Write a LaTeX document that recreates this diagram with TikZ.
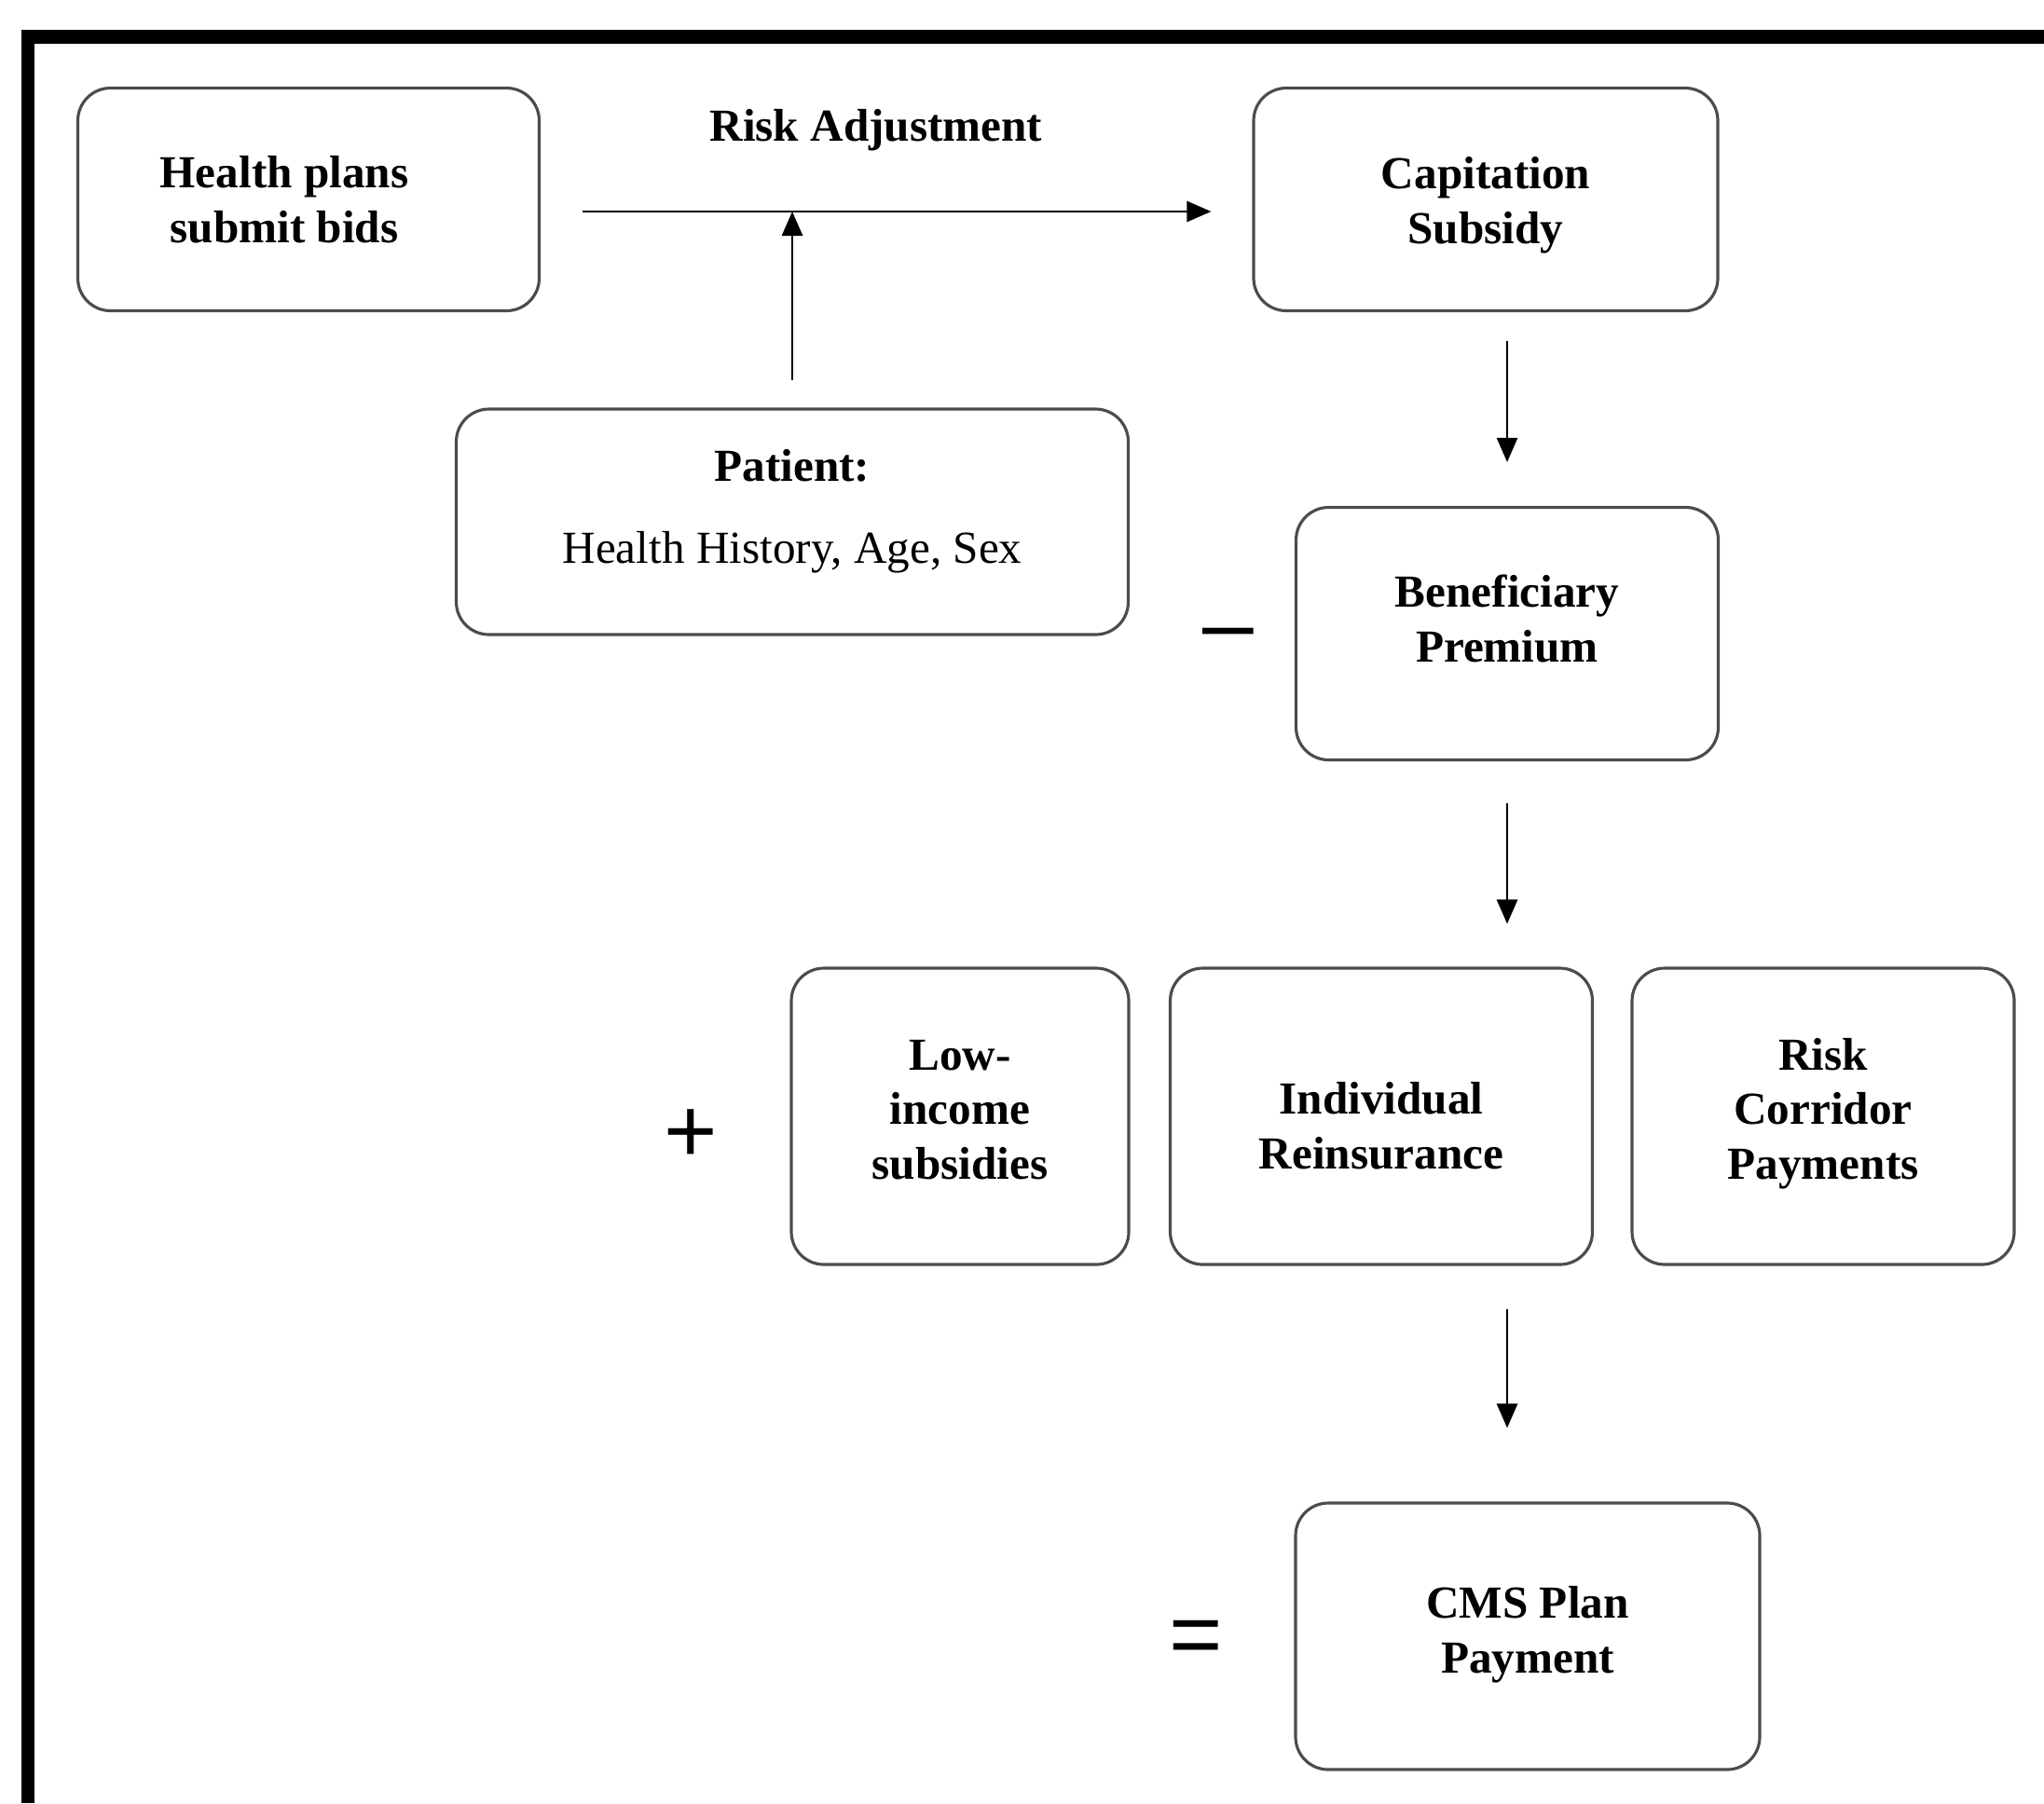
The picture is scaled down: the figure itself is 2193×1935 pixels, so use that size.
\documentclass[tikz,border=0pt]{standalone}
\usepackage{fontspec}
\setmainfont{Liberation Serif}
\newfontfamily\symfont{Liberation Sans}
\usetikzlibrary{arrows.meta,calc}
\definecolor{BoxClr}{rgb}{0.3,0.3,0.3}
% text block of a box, lifted by #1
\newcommand{\boxtext}[2]{\raisebox{#1}[\height][\depth]{\begin{tabular}{@{}c@{}}#2\end{tabular}}}

\begin{document}
\begin{tikzpicture}[x=0.1mm,y=-0.1mm,
  box/.style={draw=BoxClr,line width=0.9pt,rounded corners=3.5mm,
    inner sep=0pt,font=\fontsize{14}{16.7}\selectfont\bfseries},
  arr/.style={-{Triangle[length=2.6mm,width=2.2mm]},line width=0.8pt},
  sign/.style={font=\symfont\fontsize{28}{28}\selectfont}]
\useasboundingbox (0,0) rectangle (2193,1935);

% frame
\draw[line width=1.45mm] (30,1935) -- (30,39.5) -- (2193,39.5);

% boxes
\node[box,minimum width=4.95cm,minimum height=2.39cm] (health) at (331,214)
  {\boxtext{-0.55mm}{Health plans\\submit bids}\hspace*{5.2mm}};
\node[box,minimum width=4.98cm,minimum height=2.39cm] (capsub) at (1594,214)
  {\boxtext{-0.6mm}{Capitation\\Subsidy}};
\node[box,minimum width=7.21cm,minimum height=2.42cm] (patient) at (850,560)
  {\boxtext{1.1mm}{Patient:\\[2.9mm]\mdseries Health History, Age, Sex}};
\node[box,minimum width=4.53cm,minimum height=2.71cm] (benef) at (1617,680)
  {\boxtext{1.1mm}{Beneficiary\\Premium}};
\node[box,minimum width=3.62cm,minimum height=3.18cm] (lowinc) at (1030,1198)
  {\boxtext{0.3mm}{Low-\\income\\subsidies}};
\node[box,minimum width=4.53cm,minimum height=3.18cm] (reins) at (1482,1198)
  {\boxtext{-1.5mm}{Individual\\Reinsurance}};
\node[box,minimum width=4.10cm,minimum height=3.18cm] (corridor) at (1956,1198)
  {\boxtext{0.3mm}{Risk\\Corridor\\Payments}};
\node[box,minimum width=4.98cm,minimum height=2.86cm] (cms) at (1639,1756)
  {\boxtext{0.2mm}{CMS Plan\\Payment}};

% labels and signs
\node[font=\fontsize{14}{17}\selectfont\bfseries] (riskadj) at (940,140) {Risk Adjustment};
\node[sign] (minus) at (1318,688) {–};
\node[sign] (plus) at (741,1219) {+};
\node[sign] (equal) at (1283,1763) {=};

% connectors
\coordinate (raline) at (624,227);
\draw[arr,shorten <=4.5mm] (health.east |- raline) -- ([xshift=-4.4mm]capsub.west |- raline);
\draw[arr] ([yshift=2.9mm]patient.north) -- (patient.north |- raline);
\draw[arr] ([yshift=-3.1mm]benef.north |- capsub.south) -- ([yshift=4.7mm]benef.north);
\draw[arr] ([yshift=-4.5mm]benef.south) -- ([yshift=4.6mm]benef.south |- reins.north);
\draw[arr] ([yshift=-4.6mm]benef.south |- reins.south) -- ([yshift=7.9mm]benef.south |- cms.north);
\end{tikzpicture}
\end{document}
